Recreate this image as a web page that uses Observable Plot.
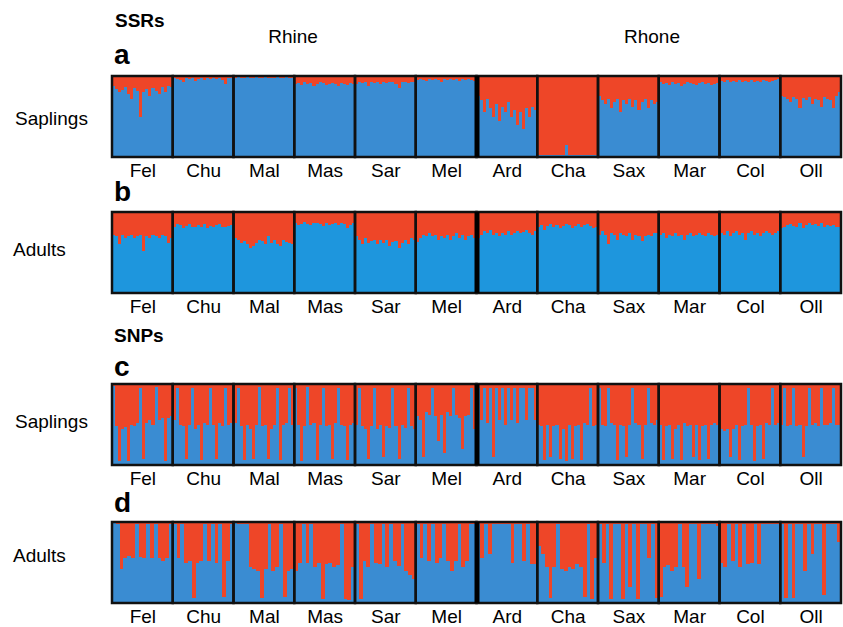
<!DOCTYPE html>
<html><head><meta charset="utf-8">
<script src="https://cdn.jsdelivr.net/npm/d3@7"></script>
<script src="https://cdn.jsdelivr.net/npm/@observablehq/plot@0.6"></script>
<style>
body{margin:0;background:#fff;font-family:"Liberation Sans",Arial,sans-serif;}
#fig{position:relative;width:843px;height:627px;overflow:hidden;}
.t{position:absolute;line-height:1;white-space:nowrap;color:#000;}
.b{font-weight:bold;}
.panel{position:absolute;left:0;}
</style></head><body><div id="fig"></div>
<script>
// Populations (in plot order) and river regions
const populations = ["Fel","Chu","Mal","Mas","Sar","Mel","Ard","Cha","Sax","Mar","Col","Oll"];
const regions = ["Rhine","Rhone"];
const markers = ["SSRs","SNPs"];
const stages = ["Saplings","Adults"];
const panelLetters = ["a","b","c","d"];

// Blue-cluster membership (q) of each individual, per population; red = 1 - q
const ssrSaplings = [
 [0.88,0.84,0.80,0.83,0.86,0.78,0.72,0.85,0.82,0.50,0.80,0.84,0.75,0.85,0.82,0.78,0.86,0.80,0.88,0.86],
 [0.97,0.96,0.95,0.92,0.97,0.96,0.97,0.94,0.96,0.97,0.95,0.97,0.96,0.98,0.96,0.97,0.95,0.90,0.97,0.97],
 [0.98,0.99,0.98,0.98,0.99,0.98,0.98,0.99,0.98,0.98,0.99,0.97,0.98,0.98,0.99,0.98,0.98,0.99,0.98,0.98],
 [0.90,0.91,0.89,0.92,0.90,0.91,0.88,0.90,0.92,0.91,0.89,0.90,0.91,0.90,0.88,0.91,0.90,0.89,0.91,0.90],
 [0.90,0.93,0.91,0.92,0.88,0.92,0.91,0.93,0.90,0.92,0.91,0.93,0.92,0.90,0.85,0.92,0.93,0.91,0.92,0.93],
 [0.95,0.96,0.95,0.94,0.96,0.95,0.96,0.95,0.93,0.96,0.95,0.96,0.95,0.96,0.94,0.96,0.95,0.96,0.95,0.94],
 [0.75,0.70,0.55,0.72,0.60,0.50,0.65,0.45,0.62,0.55,0.68,0.50,0.58,0.40,0.55,0.35,0.60,0.50,0.62,0.58],
 [0.03,0.02,0.03,0.02,0.02,0.03,0.02,0.02,0.03,0.15,0.02,0.03,0.02,0.02,0.03,0.02,0.03,0.02,0.02,0.03],
 [0.75,0.70,0.65,0.72,0.60,0.68,0.72,0.55,0.70,0.65,0.72,0.62,0.70,0.58,0.68,0.72,0.60,0.70,0.65,0.68],
 [0.92,0.90,0.91,0.89,0.92,0.90,0.91,0.88,0.90,0.92,0.91,0.90,0.89,0.91,0.92,0.90,0.91,0.89,0.90,0.91],
 [0.94,0.92,0.95,0.93,0.94,0.92,0.95,0.93,0.94,0.93,0.95,0.92,0.94,0.93,0.95,0.94,0.93,0.94,0.95,0.96],
 [0.75,0.74,0.72,0.68,0.74,0.72,0.60,0.73,0.70,0.74,0.65,0.72,0.70,0.62,0.74,0.72,0.70,0.60,0.75,0.80]
];
const ssrAdults = [
 [0.72,0.70,0.60,0.72,0.68,0.70,0.72,0.68,0.70,0.72,0.52,0.70,0.68,0.72,0.70,0.68,0.72,0.70,0.62,0.68],
 [0.82,0.85,0.84,0.80,0.83,0.85,0.82,0.81,0.84,0.82,0.85,0.80,0.83,0.82,0.84,0.85,0.82,0.81,0.83,0.84],
 [0.68,0.65,0.62,0.64,0.60,0.55,0.58,0.62,0.66,0.64,0.60,0.70,0.62,0.65,0.60,0.58,0.66,0.63,0.62,0.60],
 [0.86,0.84,0.85,0.88,0.85,0.84,0.86,0.87,0.85,0.83,0.86,0.84,0.85,0.87,0.84,0.86,0.85,0.80,0.84,0.86],
 [0.70,0.66,0.60,0.68,0.62,0.64,0.66,0.60,0.65,0.62,0.66,0.58,0.63,0.64,0.56,0.62,0.65,0.60,0.68,0.66],
 [0.63,0.68,0.72,0.70,0.74,0.70,0.72,0.66,0.70,0.68,0.72,0.66,0.70,0.74,0.68,0.72,0.66,0.70,0.72,0.68],
 [0.68,0.72,0.76,0.74,0.78,0.72,0.74,0.70,0.74,0.72,0.76,0.72,0.74,0.76,0.74,0.75,0.78,0.74,0.72,0.76],
 [0.82,0.84,0.78,0.83,0.85,0.82,0.84,0.80,0.83,0.85,0.84,0.80,0.83,0.85,0.82,0.84,0.85,0.83,0.80,0.82],
 [0.72,0.76,0.72,0.60,0.74,0.72,0.66,0.74,0.72,0.70,0.74,0.66,0.72,0.70,0.64,0.70,0.72,0.70,0.74,0.74],
 [0.72,0.74,0.68,0.72,0.70,0.74,0.70,0.72,0.66,0.72,0.74,0.70,0.72,0.74,0.72,0.70,0.74,0.72,0.70,0.72],
 [0.74,0.72,0.76,0.70,0.74,0.76,0.72,0.74,0.66,0.74,0.76,0.72,0.74,0.70,0.74,0.76,0.74,0.72,0.74,0.76],
 [0.80,0.82,0.84,0.85,0.83,0.82,0.86,0.80,0.84,0.87,0.84,0.85,0.83,0.86,0.82,0.84,0.83,0.84,0.82,0.82]
];
const snpSaplings = [
 [0.97,0.48,0.05,0.45,0.47,0.05,0.50,0.48,0.52,0.95,0.08,0.52,0.55,0.50,0.96,0.55,0.58,0.05,0.58,0.60],
 [0.55,0.95,0.50,0.48,0.07,0.50,0.95,0.45,0.50,0.06,0.52,0.50,0.95,0.50,0.08,0.52,0.48,0.95,0.50,0.52],
 [0.52,0.95,0.48,0.06,0.50,0.45,0.08,0.50,0.96,0.48,0.50,0.07,0.45,0.50,0.95,0.06,0.50,0.52,0.95,0.50],
 [0.95,0.50,0.05,0.48,0.96,0.50,0.52,0.06,0.50,0.95,0.48,0.50,0.07,0.52,0.95,0.50,0.48,0.06,0.50,0.52],
 [0.50,0.95,0.48,0.45,0.07,0.48,0.95,0.45,0.50,0.10,0.48,0.46,0.95,0.48,0.08,0.50,0.46,0.95,0.48,0.45],
 [0.60,0.55,0.10,0.65,0.62,0.95,0.60,0.30,0.62,0.15,0.65,0.60,0.95,0.62,0.58,0.20,0.60,0.62,0.95,0.45],
 [0.95,0.55,0.95,0.52,0.95,0.10,0.95,0.55,0.95,0.50,0.95,0.55,0.95,0.52,0.95,0.95,0.55,0.95,0.95,0.55],
 [0.50,0.48,0.06,0.50,0.10,0.48,0.50,0.08,0.45,0.05,0.50,0.08,0.48,0.50,0.06,0.52,0.50,0.95,0.48,0.50],
 [0.95,0.50,0.48,0.95,0.52,0.50,0.06,0.50,0.48,0.10,0.50,0.95,0.52,0.50,0.08,0.50,0.95,0.52,0.50,0.55],
 [0.50,0.06,0.48,0.50,0.08,0.45,0.50,0.06,0.52,0.48,0.50,0.10,0.50,0.06,0.48,0.50,0.08,0.50,0.52,0.50],
 [0.45,0.42,0.44,0.10,0.45,0.50,0.06,0.48,0.50,0.95,0.50,0.05,0.48,0.50,0.08,0.52,0.50,0.95,0.50,0.52],
 [0.50,0.95,0.48,0.50,0.95,0.48,0.50,0.10,0.48,0.95,0.50,0.52,0.48,0.95,0.50,0.50,0.52,0.95,0.50,0.50]
];
const snpAdults = [
 [1.00,0.97,0.42,0.56,0.58,0.55,0.98,0.57,0.56,0.97,0.55,0.97,0.56,0.52,0.55,0.97],
 [0.97,0.55,0.97,0.50,0.52,0.06,0.50,0.52,0.97,0.52,0.97,0.50,0.97,0.08,0.52,0.97],
 [0.99,0.98,0.97,0.98,0.45,0.42,0.40,0.06,0.42,0.97,0.40,0.45,0.97,0.08,0.40,0.42],
 [0.40,0.50,0.97,0.50,0.97,0.45,0.50,0.05,0.48,0.50,0.45,0.47,0.97,0.05,0.04,0.45],
 [0.97,0.05,0.52,0.45,0.97,0.50,0.48,0.97,0.45,0.97,0.52,0.46,0.97,0.40,0.35,0.30],
 [0.97,0.55,0.97,0.52,0.97,0.50,0.55,0.97,0.52,0.40,0.52,0.97,0.45,0.52,0.97,0.97],
 [0.97,0.55,0.97,0.60,0.98,0.98,0.97,0.98,0.97,0.50,0.97,0.97,0.52,0.97,0.48,0.48],
 [0.70,0.60,0.45,0.06,0.45,0.97,0.42,0.40,0.45,0.42,0.48,0.45,0.08,0.97,0.05,0.55],
 [0.97,0.50,0.97,0.05,0.97,0.97,0.05,0.97,0.20,0.97,0.05,0.97,0.97,0.55,0.97,0.06],
 [0.08,0.45,0.47,0.40,0.45,0.97,0.45,0.20,0.97,0.97,0.30,0.97,0.97,0.97,0.97,0.95],
 [0.50,0.45,0.97,0.52,0.97,0.45,0.97,0.48,0.50,0.97,0.48,0.97,0.97,0.97,0.97,0.97],
 [0.97,0.06,0.97,0.06,0.97,0.97,0.40,0.97,0.60,0.97,0.97,0.10,0.97,0.97,0.97,0.75]
];

const RED = "#ee4628";
const fig = document.getElementById("fig");
function addText(txt, cls, left, top, size, center) {
  const d = document.createElement("div");
  d.className = "t " + cls;
  d.textContent = txt;
  d.style.left = left + "px";
  d.style.top = top + "px";
  d.style.fontSize = size + "px";
  if (center) d.style.transform = "translateX(-50%)";
  fig.appendChild(d);
}

const BOX_H = 81, MT = 3, MB = 28;
const panels = [
  {values: ssrSaplings, blue: "#3a8cd2", top: 76,  stage: stages[0], letter: panelLetters[0], letterTop: 41,  stageLeft: 15, stageTop: 109},
  {values: ssrAdults,   blue: "#1e96dd", top: 212, stage: stages[1], letter: panelLetters[1], letterTop: 178, stageLeft: 13, stageTop: 240},
  {values: snpSaplings, blue: "#3a8cd2", top: 384, stage: stages[0], letter: panelLetters[2], letterTop: 353, stageLeft: 15, stageTop: 412},
  {values: snpAdults,   blue: "#3a8cd2", top: 522, stage: stages[1], letter: panelLetters[3], letterTop: 489, stageLeft: 13, stageTop: 546}
];

addText(markers[0], "b", 115, 11, 19);
addText(markers[1], "b", 114, 326, 19);
addText(regions[0], "", 293, 27, 19, true);
addText(regions[1], "", 652, 27, 19, true);

for (const p of panels) {
  const rows = [];
  p.values.forEach((arr, pi) => {
    const n = arr.length;
    arr.forEach((q, j) => rows.push({pop: populations[pi], x1: pi + j / n, x2: pi + (j + 1) / n, q}));
  });
  const chart = Plot.plot({
    width: 843, height: MT + BOX_H + MB,
    marginLeft: 112, marginRight: 2, marginTop: MT, marginBottom: MB,
    x: {domain: [0, populations.length], axis: null},
    y: {domain: [0, 1], axis: null},
    style: {fontFamily: "'Liberation Sans', Arial, sans-serif", fontSize: "19px", color: "#000", background: "transparent"},
    marks: [
      Plot.rect(populations, {x1: (d, i) => i, x2: (d, i) => i + 1, y1: 0, y2: 1, fill: p.blue}),
      Plot.rect(rows, {x1: "x1", x2: "x2", y1: "q", y2: 1, fill: RED, shapeRendering: "crispEdges"}),
      Plot.rect(populations, {x1: (d, i) => i, x2: (d, i) => i + 1, y1: 0, y2: 1, fill: "none", stroke: "#111", strokeWidth: 2.5}),
      Plot.ruleX([6], {y1: 0, y2: 1, stroke: "#000", strokeWidth: 5}),
      Plot.axisX(populations.map((d, i) => i + 0.5), {
        tickSize: 0, tickPadding: 6, fontSize: 19,
        tickFormat: d => populations[Math.floor(d)]
      })
    ]
  });
  chart.classList.add("panel");
  chart.style.top = (p.top - MT) + "px";
  fig.appendChild(chart);
  addText(p.letter, "b", 114, p.letterTop, 28);
  addText(p.stage, "", p.stageLeft, p.stageTop, 19);
}
</script></body></html>
